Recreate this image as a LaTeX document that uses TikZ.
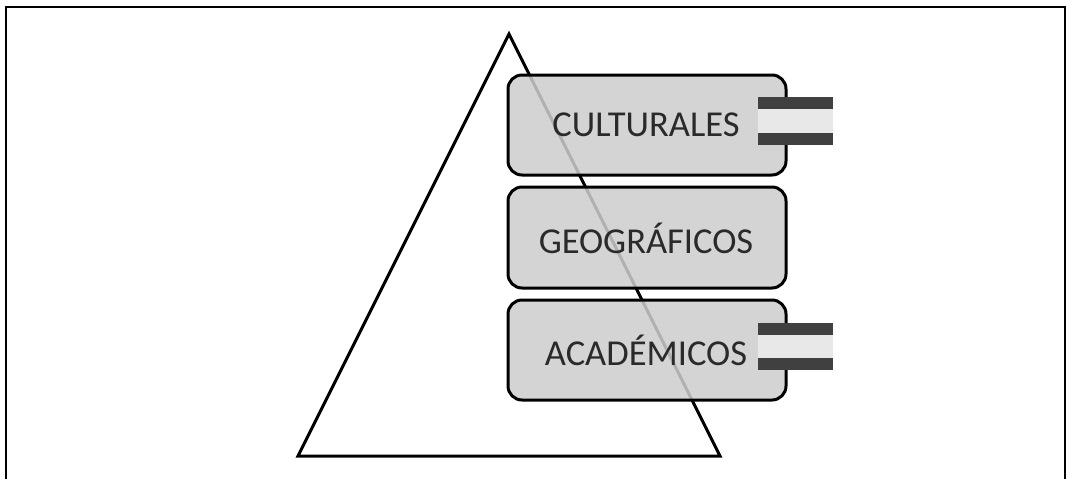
\documentclass[tikz,border=0pt]{standalone}
\usepackage{fontspec}
\setmainfont{Carlito}
\begin{document}
\begin{tikzpicture}[x=1pt,y=-1pt,
  catbox/.style={draw=black, line width=3pt, rounded corners=14pt, fill=boxgray, fill opacity=0.86, text opacity=1},
  dark/.style={fill=tabdark, draw=none},
  light/.style={fill=tablight, draw=none},
  lbl/.style={text=textgray, font=\fontsize{36.5}{44}\selectfont}]
\definecolor{boxgray}{HTML}{CDCDCD}
\definecolor{tabdark}{HTML}{404040}
\definecolor{tablight}{HTML}{E8E8E8}
\definecolor{textgray}{HTML}{2A2A2A}
\useasboundingbox (0,0) rectangle (1067,479);
% frame
\draw[line width=2pt] (6,479) -- (6,7) -- (1065,7) -- (1065,479);
% triangle
\coordinate (apex) at (509,34);
\coordinate (bl) at (298,456);
\coordinate (br) at (720,456);
\draw[line width=3pt, line join=miter] (apex) -- (bl) -- (br) -- cycle;
% boxes
\draw[catbox] (508,75) rectangle (786,175);
\draw[catbox] (508,187) rectangle (786,288);
\draw[catbox] (508,300) rectangle (786,400);
\node[lbl] (cul) at (646,125) {CULTURALES};
\node[lbl] (geo) at (646,238) {GEOGRÁFICOS};
\node[lbl] (aca) at (646,350) {ACADÉMICOS};
% tabs
\fill[dark] (758,97) rectangle (833,109);
\fill[light] (758,109) rectangle (833,133);
\fill[dark] (758,133) rectangle (833,145);
\fill[dark] (758,323) rectangle (833,335);
\fill[light] (758,335) rectangle (833,358);
\fill[dark] (758,358) rectangle (833,370);
\end{tikzpicture}
\end{document}
